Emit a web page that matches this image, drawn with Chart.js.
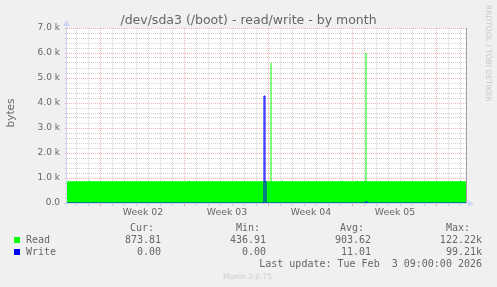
<!DOCTYPE html>
<html>
<head>
<meta charset="utf-8">
<script src="https://cdn.jsdelivr.net/npm/chart.js@4/dist/chart.umd.min.js"></script>
<style>
  html, body { margin: 0; padding: 0; background: #f0f0f0; }
  #wrap { width: 497px; height: 287px; }
</style>
</head>
<body>
<div id="wrap"><canvas id="disk-chart" width="497" height="287"></canvas></div>
<script>
// x values are days of 2026 (0 = Jan 1, 00:00); one 2h step = 1/12 day
const xMin = 1.1667;
const xMax = 34.4167;

// Monday week boundaries and the week labels between them
const weekStarts = [4, 11, 18, 25, 32];
const weekLabels = ['Week 02', 'Week 03', 'Week 04', 'Week 05'];

// y axis (bytes)
const yMax = 7000;
const yMinorStep = 200;
const yMajor = [0, 1000, 2000, 3000, 4000, 5000, 6000, 7000];
const yMajorLabels = ['0.0', '1.0 k', '2.0 k', '3.0 k', '4.0 k', '5.0 k', '6.0 k', '7.0 k'];

// Read: step breakpoints (value holds until next point)
const readDays = [1.1667, 3.0, 3.0833, 11.3333, 11.4167, 18.125, 18.2083, 19.0833, 19.1667,
                  24.0833, 24.1667, 25.3333, 25.4167, 26.0417, 26.125, 33.9167, 34.0, 34.4167];
const readValues = [873, 905, 873, 905, 873, 5600, 873, 905, 873,
                    905, 873, 905, 873, 6000, 873, 905, 873, 873];

// Write: step breakpoints
const writeDays = [1.1667, 17.5833, 17.6667, 17.75, 26.0833, 26.1667, 34.4167];
const writeValues = [0, 4280, 860, 0, 50, 0, 0];

// legend table
const seriesNames = ['Read', 'Write'];
const seriesColors = ['#00ff00', '#0000ff'];
const statHeads = ['Cur:', 'Min:', 'Avg:', 'Max:'];
const readStats = ['873.81', '436.91', '903.62', '122.22k'];
const writeStats = ['0.00', '0.00', '11.01', '99.21k'];
const lastUpdate = 'Last update: Tue Feb  3 09:00:00 2026';

const majorGrid = 'rgba(222, 79, 79, 0.45)';
const minorGrid = 'rgba(150, 150, 150, 0.45)';
const axisColor = '#CFD6F8';
const weekMids = weekStarts.slice(0, weekLabels.length).map(d => d + 3.5);

Chart.defaults.font.family = '"DejaVu Sans", sans-serif';
Chart.defaults.color = '#666';

const toPoints = (xs, ys) => xs.map((x, i) => ({ x: x, y: ys[i] }));

const munin = {
    id: 'munin',
    beforeDraw(chart) {
        const { ctx, chartArea: a } = chart;
        ctx.save();
        ctx.fillStyle = '#f0f0f0';
        ctx.fillRect(0, 0, chart.width, chart.height);
        ctx.fillStyle = '#ffffff';
        ctx.fillRect(a.left, a.top, a.right - a.left, a.bottom - a.top);
        ctx.restore();
    },
    afterDraw(chart) {
        const { ctx, chartArea: a } = chart;
        ctx.save();

        // right frame line
        ctx.strokeStyle = '#a0a0a0';
        ctx.lineWidth = 1;
        ctx.beginPath();
        ctx.moveTo(a.right + 0.5, a.top);
        ctx.lineTo(a.right + 0.5, a.bottom);
        ctx.stroke();

        // axes with arrows
        ctx.strokeStyle = axisColor;
        ctx.fillStyle = axisColor;
        ctx.beginPath();
        ctx.moveTo(a.left - 3, a.bottom + 0.5);
        ctx.lineTo(a.right + 2, a.bottom + 0.5);
        ctx.moveTo(a.left - 0.5, a.bottom + 3);
        ctx.lineTo(a.left - 0.5, a.top - 2);
        ctx.stroke();
        ctx.beginPath();
        ctx.moveTo(a.right + 2, a.bottom - 3);
        ctx.lineTo(a.right + 8, a.bottom + 0.5);
        ctx.lineTo(a.right + 2, a.bottom + 4);
        ctx.closePath();
        ctx.fill();
        ctx.beginPath();
        ctx.moveTo(a.left - 4, a.top - 2);
        ctx.lineTo(a.left - 0.5, a.top - 8);
        ctx.lineTo(a.left + 3, a.top - 2);
        ctx.closePath();
        ctx.fill();

        // title
        ctx.fillStyle = '#666';
        ctx.font = '12.5px "DejaVu Sans"';
        ctx.textAlign = 'center';
        ctx.textBaseline = 'alphabetic';
        ctx.fillText('/dev/sda3 (/boot) - read/write - by month', chart.width / 2, 23.5);

        // vertical axis label
        ctx.save();
        ctx.translate(13.5, 113);
        ctx.rotate(-Math.PI / 2);
        ctx.font = '10.5px "DejaVu Sans"';
        ctx.fillText('bytes', 0, 0);
        ctx.restore();

        // rrdtool watermark
        ctx.save();
        ctx.translate(486, 5);
        ctx.rotate(Math.PI / 2);
        ctx.fillStyle = '#c8c8c8';
        ctx.font = '7.5px "DejaVu Sans"';
        ctx.textAlign = 'left';
        ctx.fillText('RRDTOOL / TOBI OETIKER', 0, 0);
        ctx.restore();

        // legend table
        ctx.font = '10px "DejaVu Sans Mono"';
        ctx.fillStyle = '#666';
        ctx.textAlign = 'right';
        const headX = [154, 260, 364, 470];
        const valX = [161, 266, 371, 482];
        statHeads.forEach((h, i) => ctx.fillText(h, headX[i], 231));
        const rows = [readStats, writeStats];
        rows.forEach((r, j) => {
            const y = 243 + j * 12;
            r.forEach((v, i) => ctx.fillText(v, valX[i], y));
        });
        ctx.fillText(lastUpdate, 482, 267);
        ctx.textAlign = 'left';
        seriesNames.forEach((n, j) => {
            const y = 243 + j * 12;
            ctx.fillStyle = seriesColors[j];
            ctx.fillRect(14, y - 6, 6, 6);
            ctx.fillStyle = '#666';
            ctx.fillText(n, 26, y);
        });

        ctx.fillStyle = '#cccccc';
        ctx.font = '7.5px "DejaVu Sans"';
        ctx.fillText('Munin 2.0.75', 223, 279);
        ctx.restore();
    }
};

const chartCtx = document.getElementById('disk-chart');
new Chart(chartCtx, {
    type: 'line',
    data: {
        datasets: [{
            label: 'Write',
            data: toPoints(writeDays, writeValues),
            borderColor: '#0000ff',
            borderWidth: 1,
            fill: false,
            stepped: 'before',
            pointRadius: 0,
            order: 0
        }, {
            label: 'Read',
            data: toPoints(readDays, readValues),
            borderWidth: 0,
            borderColor: 'rgba(0,0,0,0)',
            backgroundColor: '#00ff00',
            fill: 'origin',
            stepped: 'before',
            pointRadius: 0,
            order: 1
        }]
    },
    plugins: [munin],
    options: {
        responsive: false,
        animation: false,
        events: [],
        layout: { padding: { top: 28, right: 31, bottom: 0, left: 0 } },
        plugins: {
            legend: { display: false },
            title: { display: false },
            tooltip: { enabled: false }
        },
        scales: {
            x: {
                type: 'linear',
                min: xMin,
                max: xMax,
                afterFit: function(scale) { scale.height = 84; },
                afterBuildTicks: function(scale) {
                    const ticks = [];
                    for (let d = Math.ceil(xMin); d <= Math.floor(xMax); d++) ticks.push({ value: d });
                    weekMids.forEach(v => ticks.push({ value: v }));
                    ticks.sort((p, q) => p.value - q.value);
                    scale.ticks = ticks;
                },
                border: { display: false, dash: [1, 1] },
                grid: {
                    tickLength: 3,
                    color: function(c) {
                        const v = c.tick ? c.tick.value : null;
                        if (weekMids.includes(v)) return 'rgba(0,0,0,0)';
                        return weekStarts.includes(v) ? majorGrid : minorGrid;
                    },
                    tickColor: function(c) {
                        const v = c.tick ? c.tick.value : null;
                        if (weekMids.includes(v)) return 'rgba(0,0,0,0)';
                        return weekStarts.includes(v) ? majorGrid : minorGrid;
                    }
                },
                ticks: {
                    autoSkip: false,
                    maxRotation: 0,
                    padding: 1,
                    color: '#666',
                    font: { size: 9.3 },
                    callback: function(value) {
                        const i = weekMids.indexOf(value);
                        return i >= 0 ? weekLabels[i] : '';
                    }
                }
            },
            y: {
                min: 0,
                max: yMax,
                afterFit: function(scale) { scale.width = 67; },
                afterBuildTicks: function(scale) {
                    const ticks = [];
                    for (let v = 0; v <= yMax; v += yMinorStep) ticks.push({ value: v });
                    scale.ticks = ticks;
                },
                border: { display: false, dash: [1, 1] },
                grid: {
                    tickLength: 2,
                    color: function(c) {
                        const v = c.tick ? c.tick.value : null;
                        return yMajor.includes(v) ? majorGrid : minorGrid;
                    },
                    tickColor: function(c) {
                        const v = c.tick ? c.tick.value : null;
                        return yMajor.includes(v) ? majorGrid : minorGrid;
                    }
                },
                ticks: {
                    autoSkip: false,
                    padding: 5,
                    color: '#666',
                    font: { size: 9 },
                    callback: function(value) {
                        const i = yMajor.indexOf(value);
                        return i >= 0 ? yMajorLabels[i] : '';
                    }
                }
            }
        }
    }
});
</script>
</body>
</html>
